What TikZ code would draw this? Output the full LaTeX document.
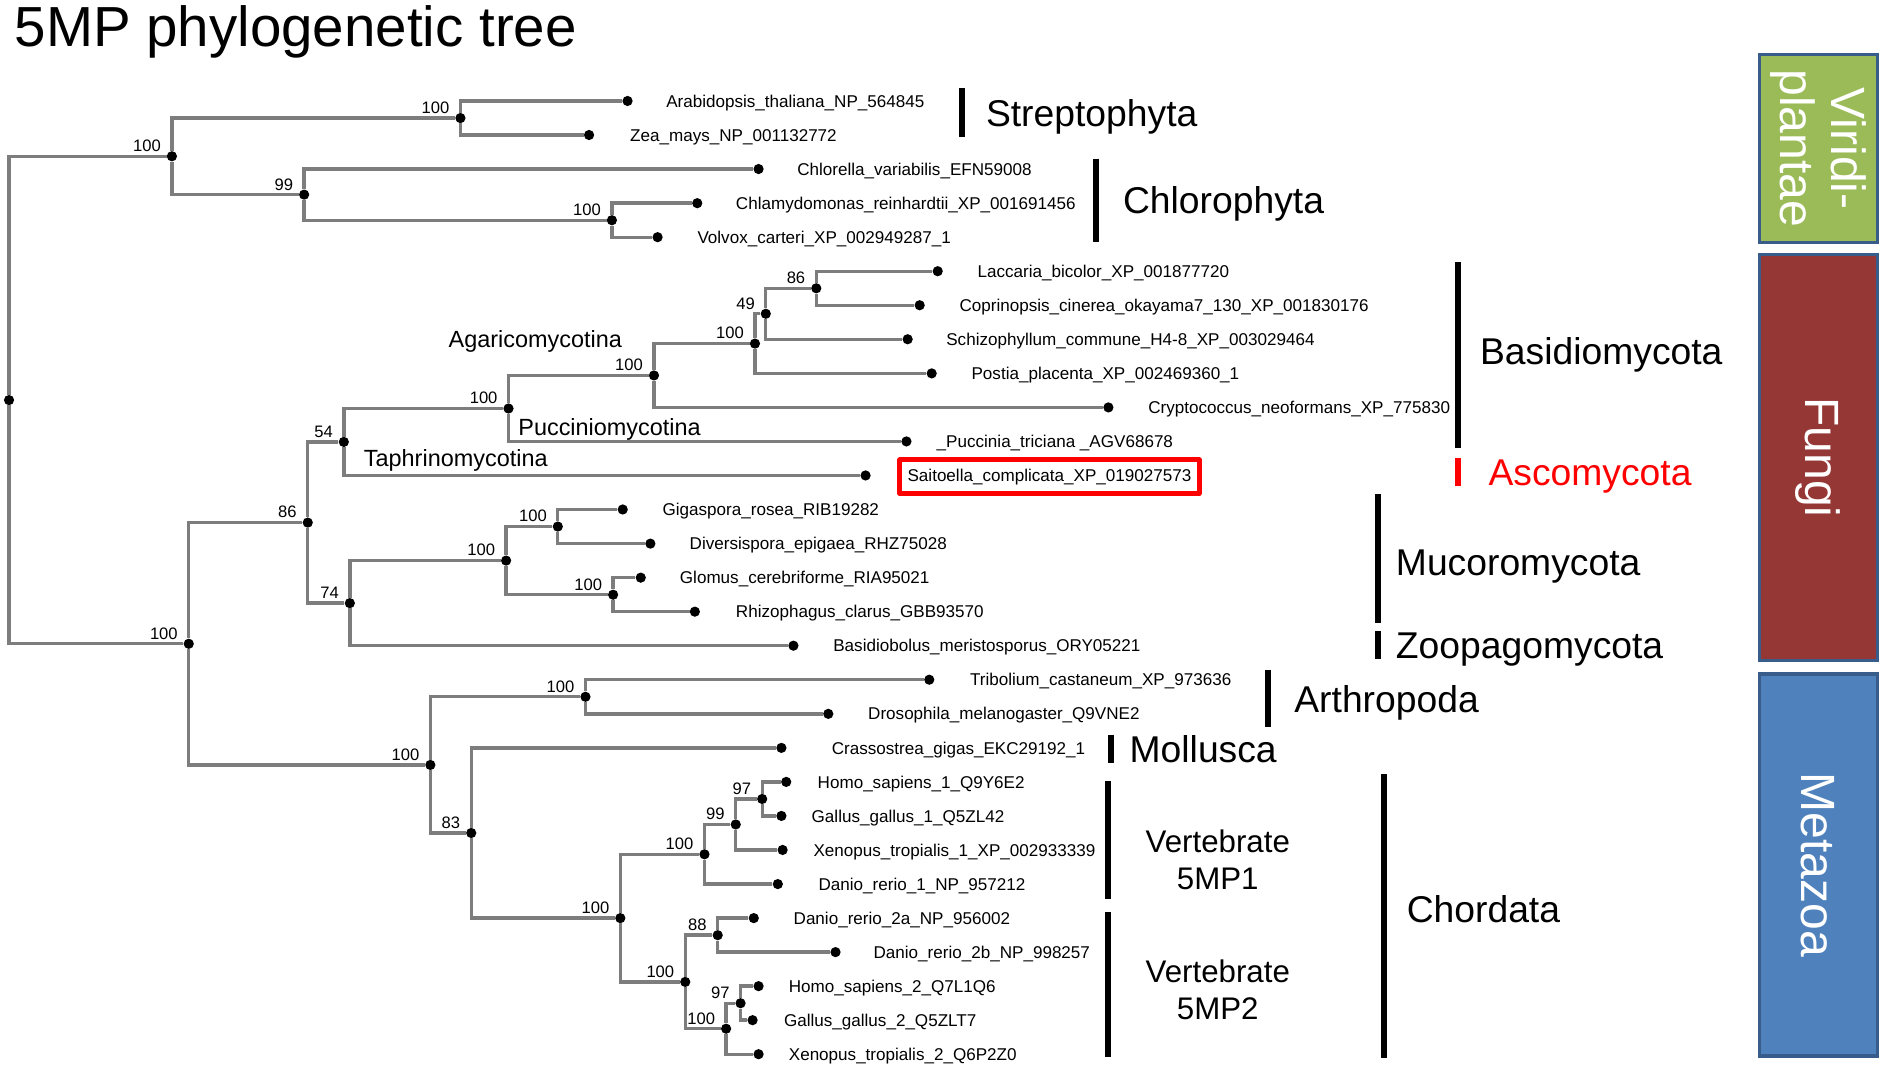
\documentclass[tikz,border=0pt]{standalone}
\usepackage{fontspec}
\setmainfont{Liberation Sans}
\definecolor{treegray}{RGB}{125,125,125}
\definecolor{vgreen}{RGB}{155,187,89}
\definecolor{fred}{RGB}{149,55,53}
\definecolor{mblue}{RGB}{79,129,189}
\definecolor{kborder}{RGB}{56,93,138}
\definecolor{ascored}{RGB}{255,0,0}
\newcommand\bootlab[3]{\node[boot] (#1) at ([xshift=-9bp,yshift=3.5bp]#2.center) {#3};}
\begin{document}
\begin{tikzpicture}[x=1bp,y=-1bp,
  dot/.style={circle,fill=black,inner sep=0pt,minimum size=8.5bp},
  branch/.style={draw=treegray,line width=2.8bp},
  leaflab/.style={inner sep=0pt,anchor=base west,font=\fontsize{14.2bp}{16bp}\selectfont},
  boot/.style={inner sep=0pt,anchor=south east,font=\fontsize{13.8bp}{15bp}\selectfont},
  clade/.style={inner sep=0pt,anchor=base west,font=\fontsize{31bp}{34bp}\selectfont},
  subclade/.style={inner sep=0pt,anchor=base west,font=\fontsize{19.5bp}{22bp}\selectfont},
  cbar/.style={line width=5bp},
  kbox/.style={draw=kborder,line width=2.8bp,minimum width=98bp,inner sep=0pt},
  ktext/.style={text=white,rotate=-90,align=center,inner sep=0pt,font=\fontsize{40bp}{43bp}\selectfont},
  vtext/.style={align=center,inner sep=0pt,font=\fontsize{26bp}{31bp}\selectfont},
]
\fill[white] (0,0) rectangle (1568,890);
\useasboundingbox (0,0) rectangle (1568,890);

% title
\node[inner sep=0pt,anchor=base west,font=\fontsize{47bp}{50bp}\selectfont] (title) at (12,39) {5MP phylogenetic tree};

% internal nodes
\node[dot] (root) at (7.5,332.8) {};
\node[dot] (nA) at (143,130) {};
\node[dot] (nS) at (383,98.2) {};
\node[dot] (nC) at (253,161.9) {};
\node[dot] (nD) at (509,183.2) {};
\node[dot] (nOp) at (157,535.5) {};
\node[dot] (nF) at (256,434.7) {};
\node[dot] (n54) at (286,367.6) {};
\node[dot] (nB) at (423,339.8) {};
\node[dot] (nAg) at (544,312.3) {};
\node[dot] (nAh) at (628,285.8) {};
\node[dot] (n49) at (637,261) {};
\node[dot] (n86) at (679,239.8) {};
\node[dot] (n74) at (291,501.7) {};
\node[dot] (nM) at (421,466.3) {};
\node[dot] (nG) at (464,438) {};
\node[dot] (nGl) at (510,494.7) {};
\node[dot] (nMe) at (358,636.3) {};
\node[dot] (nAr) at (487,579.6) {};
\node[dot] (n83) at (392,692.9) {};
\node[dot] (nCh) at (516,763.7) {};
\node[dot] (nV1) at (586,710.6) {};
\node[dot] (n99) at (612,685.8) {};
\node[dot] (n97a) at (634,664.6) {};
\node[dot] (nV2) at (570,816.8) {};
\node[dot] (n88) at (597,777.9) {};
\node[dot] (nT2) at (604,855.7) {};
\node[dot] (n97b) at (616,834.5) {};

% leaves
\node[dot] (l0) at (522,84.0) {};
\node[dot] (l1) at (490,112.3) {};
\node[dot] (l2) at (631,140.6) {};
\node[dot] (l3) at (580,169.0) {};
\node[dot] (l4) at (547,197.3) {};
\node[dot] (l5) at (780,225.6) {};
\node[dot] (l6) at (765,253.9) {};
\node[dot] (l7) at (755,282.2) {};
\node[dot] (l8) at (775,310.6) {};
\node[dot] (l9) at (922,338.9) {};
\node[dot] (l10) at (754,367.2) {};
\node[dot] (l11) at (720,395.5) {};
\node[dot] (l12) at (518,423.8) {};
\node[dot] (l13) at (541,452.2) {};
\node[dot] (l14) at (533,480.5) {};
\node[dot] (l15) at (578,508.8) {};
\node[dot] (l16) at (660,537.1) {};
\node[dot] (l17) at (773,565.4) {};
\node[dot] (l18) at (689,593.8) {};
\node[dot] (l19) at (650,622.1) {};
\node[dot] (l20) at (654,650.4) {};
\node[dot] (l21) at (650,678.7) {};
\node[dot] (l22) at (651,707.0) {};
\node[dot] (l23) at (647,735.4) {};
\node[dot] (l24) at (627,763.7) {};
\node[dot] (l25) at (695,792.0) {};
\node[dot] (l26) at (631,820.3) {};
\node[dot] (l27) at (626,848.6) {};
\node[dot] (l28) at (631,876.9) {};

% branches
\foreach \p/\c in {root/nA,root/nOp,nA/nS,nA/nC,nS/l0,nS/l1,nC/l2,nC/nD,nD/l3,nD/l4,
  nOp/nF,nOp/nMe,nF/n54,nF/n74,n54/nB,n54/l11,nB/nAg,nB/l10,nAg/nAh,nAg/l9,
  nAh/n49,nAh/l8,n49/n86,n49/l7,n86/l5,n86/l6,n74/nM,n74/l16,nM/nG,nM/nGl,
  nG/l12,nG/l13,nGl/l14,nGl/l15,nMe/nAr,nMe/n83,nAr/l17,nAr/l18,n83/l19,n83/nCh,
  nCh/nV1,nCh/nV2,nV1/n99,nV1/l23,n99/n97a,n99/l22,n97a/l20,n97a/l21,
  nV2/n88,nV2/nT2,n88/l24,n88/l25,nT2/n97b,nT2/l28,n97b/l26,n97b/l27}
  \draw[branch] (\p) |- (\c);

% bootstrap values
\bootlab{bA}{nA}{100}
\bootlab{bS}{nS}{100}
\bootlab{bC}{nC}{99}
\bootlab{bD}{nD}{100}
\bootlab{bOp}{nOp}{100}
\bootlab{bF}{nF}{86}
\bootlab{b54}{n54}{54}
\bootlab{bB}{nB}{100}
\bootlab{bAg}{nAg}{100}
\bootlab{bAh}{nAh}{100}
\bootlab{b49}{n49}{49}
\bootlab{b86}{n86}{86}
\bootlab{b74}{n74}{74}
\bootlab{bM}{nM}{100}
\bootlab{bG}{nG}{100}
\bootlab{bGl}{nGl}{100}
\bootlab{bMe}{nMe}{100}
\bootlab{bAr}{nAr}{100}
\bootlab{b83}{n83}{83}
\bootlab{bCh}{nCh}{100}
\bootlab{bV1}{nV1}{100}
\bootlab{b99}{n99}{99}
\bootlab{b97a}{n97a}{97}
\bootlab{bV2}{nV2}{100}
\bootlab{b88}{n88}{88}
\bootlab{bT2}{nT2}{100}
\bootlab{b97b}{n97b}{97}

% leaf labels
\node[leaflab] (t0) at (554,89.1) {Arabidopsis\_thaliana\_NP\_564845};
\node[leaflab] (t1) at (524,117.4) {Zea\_mays\_NP\_001132772};
\node[leaflab] (t2) at (663,145.7) {Chlorella\_variabilis\_EFN59008};
\node[leaflab] (t3) at (612,174.1) {Chlamydomonas\_reinhardtii\_XP\_001691456};
\node[leaflab] (t4) at (580,202.4) {Volvox\_carteri\_XP\_002949287\_1};
\node[leaflab] (t5) at (813,230.7) {Laccaria\_bicolor\_XP\_001877720};
\node[leaflab] (t6) at (798,259.0) {Coprinopsis\_cinerea\_okayama7\_130\_XP\_001830176};
\node[leaflab] (t7) at (787,287.3) {Schizophyllum\_commune\_H4-8\_XP\_003029464};
\node[leaflab] (t8) at (808,315.7) {Postia\_placenta\_XP\_002469360\_1};
\node[leaflab] (t9) at (955,344.0) {Cryptococcus\_neoformans\_XP\_775830};
\node[leaflab] (t10) at (779,372.3) {\_Puccinia\_triciana \_AGV68678};
\node[leaflab,anchor=west,draw=ascored,line width=3.9bp,line join=round,inner xsep=6.5bp,minimum height=28bp] (t11) at (746.5,396.5) {Saitoella\_complicata\_XP\_019027573};
\node[leaflab] (t12) at (551,428.9) {Gigaspora\_rosea\_RIB19282};
\node[leaflab] (t13) at (573.5,457.3) {Diversispora\_epigaea\_RHZ75028};
\node[leaflab] (t14) at (565.4,485.6) {Glomus\_cerebriforme\_RIA95021};
\node[leaflab] (t15) at (612,513.9) {Rhizophagus\_clarus\_GBB93570};
\node[leaflab] (t16) at (693,542.2) {Basidiobolus\_meristosporus\_ORY05221};
\node[leaflab] (t17) at (806.7,570.5) {Tribolium\_castaneum\_XP\_973636};
\node[leaflab] (t18) at (722,598.9) {Drosophila\_melanogaster\_Q9VNE2};
\node[leaflab] (t19) at (691.7,627.2) {Crassostrea\_gigas\_EKC29192\_1};
\node[leaflab] (t20) at (680,655.5) {Homo\_sapiens\_1\_Q9Y6E2};
\node[leaflab] (t21) at (675,683.8) {Gallus\_gallus\_1\_Q5ZL42};
\node[leaflab] (t22) at (676.5,712.1) {Xenopus\_tropialis\_1\_XP\_002933339};
\node[leaflab] (t23) at (680.7,740.5) {Danio\_rerio\_1\_NP\_957212};
\node[leaflab] (t24) at (660,768.8) {Danio\_rerio\_2a\_NP\_956002};
\node[leaflab] (t25) at (726.5,797.1) {Danio\_rerio\_2b\_NP\_998257};
\node[leaflab] (t26) at (656,825.4) {Homo\_sapiens\_2\_Q7L1Q6};
\node[leaflab] (t27) at (652,853.7) {Gallus\_gallus\_2\_Q5ZLT7};
\node[leaflab] (t28) at (656,882.0) {Xenopus\_tropialis\_2\_Q6P2Z0};

% subclade labels
\node[subclade] (agar) at (373,289) {Agaricomycotina};
\node[subclade] (pucc) at (431,362) {Pucciniomycotina};
\node[subclade] (taph) at (302.5,388) {Taphrinomycotina};

% clade bars
\draw[cbar] (800,73) -- (800,114);
\draw[cbar] (912,132) -- (912,201);
\draw[cbar] (1213,218) -- (1213,373);
\draw[cbar,ascored] (1213,381) -- (1213,404);
\draw[cbar] (1146,411) -- (1146,518);
\draw[cbar] (1146,525) -- (1146,548);
\draw[cbar] (1055,557) -- (1055,605);
\draw[cbar] (924,611) -- (924,635);
\draw[cbar] (922,650) -- (922,748);
\draw[cbar] (922,759) -- (922,879);
\draw[cbar] (1151,644) -- (1151,880);

% clade labels
\node[clade] (strep) at (820,105.5) {Streptophyta};
\node[clade] (chlor) at (934,177.5) {Chlorophyta};
\node[clade] (basid) at (1231,303) {Basidiomycota};
\node[clade,text=ascored] (asco) at (1238,404) {Ascomycota};
\node[clade] (mucor) at (1161,478.5) {Mucoromycota};
\node[clade] (zoop) at (1161,547.5) {Zoopagomycota};
\node[clade] (arth) at (1076.5,593) {Arthropoda};
\node[clade] (moll) at (939.5,634) {Mollusca};
\node[clade] (chord) at (1170,767) {Chordata};
\node[vtext] (vert1) at (1013,715.5) {Vertebrate\\5MP1};
\node[vtext] (vert2) at (1013,823.5) {Vertebrate\\5MP2};

% kingdom boxes
\node[kbox,fill=vgreen,minimum height=156bp] (kV) at (1512.5,123.5) {};
\node[kbox,fill=fred,minimum height=338bp] (kF) at (1512.5,380.5) {};
\node[kbox,fill=mblue,minimum height=318bp] (kM) at (1512.5,719.5) {};
\node[ktext] (kVt) at (kV.center) {Viridi-\\plantae};
\node[ktext] (kFt) at (kF.center) {Fungi};
\node[ktext] (kMt) at (kM.center) {Metazoa};
\end{tikzpicture}
\end{document}
